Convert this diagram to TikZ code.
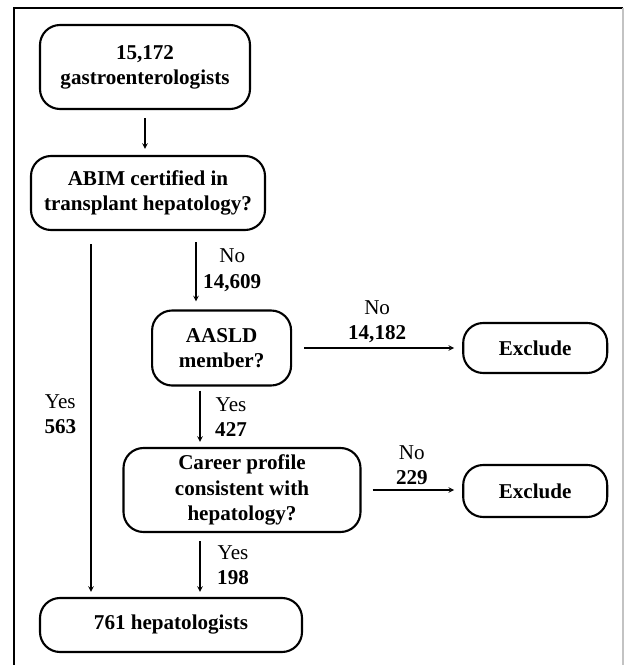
\documentclass[tikz,border=0pt]{standalone}
\usepackage{fontspec}
\setmainfont{Liberation Serif}
\usepackage{tikz}
\usetikzlibrary{arrows,shapes,positioning}
\usepackage{xcolor}
\definecolor{framegray}{RGB}{195,195,195}
\tikzstyle{arrow} = [thick,->,>=stealth]
\tikzstyle{stepbox} = [rectangle, rounded corners=0.5cm, text centered, align=center, draw=black, line width=1.5pt, inner sep=0pt, font=\bfseries\fontsize{15}{18}\selectfont]
\tikzstyle{count} = [align=center, font=\fontsize{15}{18}\selectfont]

\begin{document}
\begin{tikzpicture}
\useasboundingbox (-3.625,1.675) rectangle (11.975,-14.95);
% Frame
\draw[line width=1pt] (-3.275,-14.95) -- (-3.275,1.475) -- (11.95,1.475);
\draw[line width=1pt, framegray] (11.95,1.475) -- (11.95,-14.95);

% Steps
\node (gastro) [stepbox, minimum width=5.25cm, minimum height=2.1cm] {15,172\\gastroenterologists};
\node (abim) [stepbox, below of=gastro, node distance=3.15cm, xshift=0.075cm, minimum width=5.85cm, minimum height=1.85cm] {ABIM certified in\\transplant hepatology?};
\node (aasld) [stepbox, below of=abim, node distance=3.875cm, xshift=1.84cm, minimum width=3.475cm, minimum height=1.875cm] {AASLD\\member?};
\node (exclA) [stepbox, right of=aasld, node distance=7.84cm, minimum width=3.6cm, minimum height=1.25cm] {Exclude};
\node (career) [stepbox, below of=aasld, node distance=3.55cm, xshift=0.51cm, minimum width=5.925cm, minimum height=2.1cm] {Career profile\\consistent with\\hepatology?};
\node (exclB) [stepbox, below of=exclA, node distance=3.575cm, minimum width=3.6cm, minimum height=1.3cm] {Exclude};
\node (hepa) [stepbox, below of=career, node distance=3.375cm, xshift=-1.775cm, minimum width=6.55cm, minimum height=1.35cm] {761 hepatologists};

% Branch points
\coordinate (noabim) at ([xshift=-0.64cm]aasld.north);
\coordinate (yesabim) at ([xshift=-1.425cm]abim.south);
\coordinate (yesaasld) at ([xshift=-0.54cm]aasld.south);
\coordinate (yescareer) at ([xshift=-1.05cm]career.south);

% Flow
\draw[arrow, shorten <=0.2cm, shorten >=0.15cm] (gastro.south) -- (gastro.south |- abim.north);
\draw[arrow, shorten <=0.275cm, shorten >=0.2cm] (noabim |- abim.south) -- node[count, right, xshift=0.05cm] {No\\\textbf{14,609}} (noabim);
\draw[arrow, shorten <=0.325cm, shorten >=0.125cm] (yesabim) -- node[count, left, xshift=-0.24cm] {Yes\\\textbf{563}} (yesabim |- hepa.north);
\draw[arrow, shorten <=0.3cm, shorten >=0.2cm] (aasld.east) -- node[count, above] {No\\\textbf{14,182}} (aasld.east -| exclA.west);
\draw[arrow, shorten <=0.1cm, shorten >=0.125cm] (yesaasld) -- node[count, right, xshift=0.25cm] {Yes\\\textbf{427}} (yesaasld |- career.north);
\draw[arrow, shorten <=0.275cm, shorten >=0.2cm] (career.east) -- node[count, above] {No\\\textbf{229}} (career.east -| exclB.west);
\draw[arrow, shorten <=0.2cm, shorten >=0.125cm] (yescareer) -- node[count, right, xshift=0.3cm] {Yes\\\textbf{198}} (yescareer |- hepa.north);
\end{tikzpicture}
\end{document}
